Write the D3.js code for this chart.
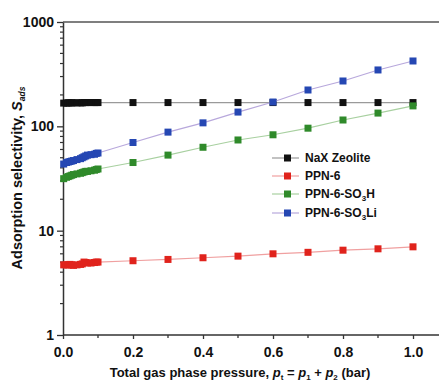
<!DOCTYPE html>
<html lang="en">
<head>
  <meta charset="UTF-8">
  <title>Adsorption selectivity</title>
  <script src="https://cdn.jsdelivr.net/npm/d3@7"></script>
  <style>
    body { margin: 0; background: #fff; }
    text { font-family: Arial, "Liberation Sans", sans-serif; font-weight: bold; fill: #111; }
  </style>
</head>
<body>
  <svg id="chart" width="439" height="383"></svg>
  <script>

  // pressures (bar)
  var pressure = [0.002, 0.01, 0.015, 0.02, 0.025, 0.03, 0.04, 0.05, 0.055, 0.06, 0.065, 0.07, 0.08, 0.09, 0.095, 0.1,
                  0.2, 0.3, 0.4, 0.5, 0.6, 0.7, 0.8, 0.9, 1.0];

  var naxZeolite = [167, 167, 168, 168, 168, 168, 168, 168, 168, 169, 169, 169, 169, 169, 169, 169,
                    169, 169, 169, 169, 169, 169, 169, 169, 169];
  var ppn6 = [4.7, 4.7, 4.7, 4.75, 4.7, 4.65, 4.7, 4.75, 4.8, 5.0, 4.95, 4.9, 4.9, 4.95, 5.0, 5.0,
              5.15, 5.3, 5.5, 5.7, 6.0, 6.2, 6.5, 6.7, 7.0];
  var ppn6SO3H = [31.5, 32.5, 33, 33.5, 34, 34.5, 35, 35.5, 36, 36.5, 37, 37, 37.5, 38, 38.5, 39,
                  45, 53, 63, 74, 83, 96, 115, 134, 157];
  var ppn6SO3Li = [43.5, 45, 45.5, 46, 46.5, 47, 48, 49, 50, 51, 52, 53, 53.5, 54, 55, 55.5,
                   70, 88, 108, 137, 171, 223, 272, 347, 423];

  var seriesNames = ["NaX Zeolite", "PPN-6", "PPN-6-SO3H", "PPN-6-SO3Li"];
  var markerColors = ["#111111", "#e0231c", "#2f8a2a", "#2547b3"];
  var lineColors = ["#9a9a9a", "#f0a0a0", "#a8d0a0", "#b8a8dc"];

  var xTicks = [0.0, 0.2, 0.4, 0.6, 0.8, 1.0];
  var yTicks = [1, 10, 100, 1000];

  var svg = d3.select("#chart");

  var x = d3.scaleLinear().domain([0, 1]).range([63, 413]);
  var y = d3.scaleLog().domain([1, 1000]).range([335, 22]);

  var axisColor = "#333";

  // top frame line
  svg.append("line")
    .attr("x1", 63).attr("x2", 439)
    .attr("y1", y(1000)).attr("y2", y(1000))
    .attr("stroke", "#555").attr("stroke-width", 1.5);

  // x axis
  var xAxis = svg.append("g")
    .attr("transform", "translate(0," + y(1) + ")")
    .call(d3.axisBottom(x).tickValues(xTicks).tickFormat(d3.format(".1f")).tickSize(4).tickSizeOuter(0));
  xAxis.select(".domain").attr("stroke", axisColor).attr("stroke-width", 1.5).attr("d", "M63,0H439");
  xAxis.selectAll(".tick line").attr("stroke", axisColor).attr("stroke-width", 1.3);
  xAxis.selectAll(".tick text").attr("font-size", 14).attr("dy", "1.1em").attr("fill", "#111");
  // minor x ticks
  xAxis.selectAll(".minor")
    .data([0.1, 0.3, 0.5, 0.7, 0.9])
    .enter().append("line")
    .attr("x1", d => x(d)).attr("x2", d => x(d))
    .attr("y1", 0).attr("y2", 3)
    .attr("stroke", axisColor).attr("stroke-width", 1.3);

  // y axis
  var yAxis = svg.append("g")
    .attr("transform", "translate(" + x(0) + ",0)")
    .call(d3.axisLeft(y).tickValues(yTicks).tickFormat(d3.format("d")).tickSize(6).tickSizeOuter(0));
  yAxis.select(".domain").attr("stroke", axisColor).attr("stroke-width", 1.5);
  yAxis.selectAll(".tick line").attr("stroke", axisColor).attr("stroke-width", 1.3);
  yAxis.selectAll(".tick text").attr("font-size", 14).attr("x", -9).attr("fill", "#111");
  var minorY = [];
  [1, 10, 100].forEach(function (d) {
    for (var k = 2; k <= 9; k++) minorY.push(d * k);
  });
  yAxis.selectAll(".minor")
    .data(minorY)
    .enter().append("line")
    .attr("x1", -3).attr("x2", 0)
    .attr("y1", d => y(d)).attr("y2", d => y(d))
    .attr("stroke", axisColor).attr("stroke-width", 1.2);

  // series
  var allSeries = [naxZeolite, ppn6, ppn6SO3H, ppn6SO3Li];
  var line = d3.line().x(d => x(d[0])).y(d => y(d[1]));

  allSeries.forEach(function (vals, i) {
    var pts = pressure.map((p, j) => [p, vals[j]]);
    svg.append("path")
      .attr("d", line(pts))
      .attr("fill", "none")
      .attr("stroke", lineColors[i])
      .attr("stroke-width", 1.2);
    svg.append("g").selectAll("rect")
      .data(pts)
      .enter().append("rect")
      .attr("x", d => x(d[0]) - 3.5)
      .attr("y", d => y(d[1]) - 3.5)
      .attr("width", 7).attr("height", 7)
      .attr("fill", markerColors[i]);
  });

  // legend
  var legend = svg.append("g");
  var legendY = [158, 176, 194, 213];
  seriesNames.forEach(function (name, i) {
    var g = legend.append("g").attr("transform", "translate(0," + legendY[i] + ")");
    g.append("line").attr("x1", 272).attr("x2", 299).attr("y1", 0).attr("y2", 0)
      .attr("stroke", lineColors[i]).attr("stroke-width", 1.2);
    g.append("rect").attr("x", 284).attr("y", -3.5).attr("width", 7).attr("height", 7)
      .attr("fill", markerColors[i]);
    var t = g.append("text").attr("x", 305).attr("y", 4).attr("font-size", 12);
    if (name.indexOf("SO3") >= 0) {
      var parts = name.split("SO3");
      t.append("tspan").text(parts[0] + "SO");
      t.append("tspan").text("3").attr("font-size", 8).attr("dy", 3);
      t.append("tspan").text(parts[1]).attr("dy", -3);
    } else {
      t.text(name);
    }
  });

  // y axis title
  var yt = svg.append("text")
    .attr("transform", "translate(22,178) rotate(-90)")
    .attr("text-anchor", "middle")
    .attr("font-size", 14.5);
  yt.append("tspan").text("Adsorption selectivity, ");
  yt.append("tspan").text("S").attr("font-style", "italic");
  yt.append("tspan").text("ads").attr("font-size", 8.5).attr("font-style", "italic").attr("dy", 3);

  // x axis title
  var xt = svg.append("text")
    .attr("x", 240).attr("y", 377)
    .attr("text-anchor", "middle")
    .attr("font-size", 13);
  xt.append("tspan").text("Total gas phase pressure, ");
  xt.append("tspan").text("p").attr("font-style", "italic");
  xt.append("tspan").text("t").attr("font-size", 8).attr("dy", 3);
  xt.append("tspan").text(" = ").attr("dy", -3);
  xt.append("tspan").text("p").attr("font-style", "italic");
  xt.append("tspan").text("1").attr("font-size", 8).attr("dy", 3);
  xt.append("tspan").text(" + ").attr("dy", -3);
  xt.append("tspan").text("p").attr("font-style", "italic");
  xt.append("tspan").text("2").attr("font-size", 8).attr("dy", 3);
  xt.append("tspan").text(" (bar)").attr("dy", -3);

  </script>
</body>
</html>
